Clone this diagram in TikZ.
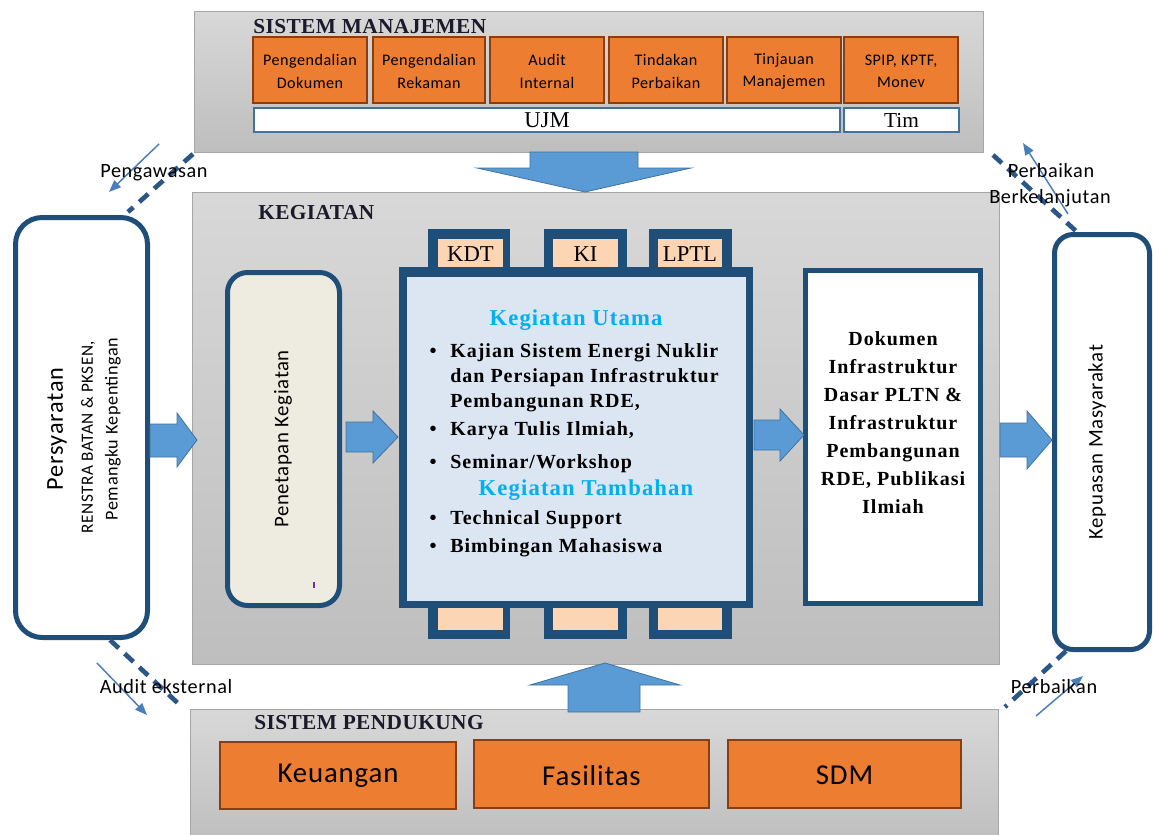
\documentclass[tikz,border=0pt]{standalone}
\usepackage{fontspec}
\setmainfont{Liberation Serif}
\newfontfamily\sfsp{Carlito}[LetterSpace=3]
\newfontfamily\rmsp{Liberation Serif}[LetterSpace=5]
\newfontfamily\ttlsp{Liberation Serif}[LetterSpace=2]
\usetikzlibrary{arrows.meta,fit}
\definecolor{orng}{HTML}{ED7D31}
\definecolor{orngb}{HTML}{8A3E10}
\definecolor{navy}{HTML}{1F4E79}
\definecolor{lblue}{HTML}{DCE6F2}
\definecolor{peach}{HTML}{FCD5B4}
\definecolor{ablue}{HTML}{5B9BD5}
\definecolor{ablueb}{HTML}{41719C}
\definecolor{cream}{HTML}{EEECE1}
\definecolor{cyanh}{HTML}{00B0F0}
\definecolor{grayb}{HTML}{A6A6A6}
\definecolor{gtop}{HTML}{D8D8D8}
\definecolor{gbot}{HTML}{BEBEBE}
\definecolor{dashc}{HTML}{2B5688}
\definecolor{thinc}{HTML}{4A7EBB}
\definecolor{ttlc}{HTML}{1A1A2A}
\begin{document}
\begin{tikzpicture}[x=0.75pt,y=-0.75pt,
  graybox/.style={draw=grayb, line width=0.75pt, top color=gtop, bottom color=gbot, inner sep=0},
  obox/.style={draw=orngb, fill=orng, line width=0.9pt, inner sep=0},
  wbox/.style={draw=ablueb, fill=white, line width=1.2pt, inner sep=0},
  rbox/.style={draw=navy, line width=3.75pt, fill=white, inner sep=0},
  navyfill/.style={fill=navy, inner sep=0},
  pbox/.style={fill=peach, inner sep=0},
  txt/.style={inner sep=0, align=center, anchor=center},
  otxt/.style={txt, font=\sfsp\fontsize{12.1}{17.2}\selectfont},
  btxt/.style={txt, font=\sfsp\fontsize{21.6}{24}\selectfont},
  stxt/.style={txt, font=\fontsize{17}{20}\selectfont},
  barrow/.style={fill=ablue, draw=ablueb, line width=0.6pt},
  dashline/.style={draw=dashc, line width=3.5pt, dash pattern=on 9pt off 6pt},
  thinarr/.style={draw=thinc, line width=1.1pt, -{Triangle[length=9pt,width=7pt]}},
  ttl/.style={font=\ttlsp\bfseries\fontsize{16}{19}\selectfont, text=ttlc, anchor=base west, inner sep=0},
  lbl/.style={font=\sfsp\fontsize{15.2}{18}\selectfont, anchor=base, inner sep=0},
  body/.style={font=\rmsp\bfseries\fontsize{15}{18}\selectfont, anchor=base west, inner sep=0},
  bul/.style={font=\rmsp\bfseries\fontsize{15}{18}\selectfont, anchor=base, inner sep=0},
  headt/.style={font=\rmsp\bfseries\fontsize{17}{20}\selectfont, text=cyanh, anchor=base, inner sep=0},
  rot/.style={rotate=90, inner sep=0, anchor=center}
]
\useasboundingbox (0,0) rectangle (1153,835);

% ---------- gray frames
\node (sm) [graybox, fit={(194,11) (983,152)}] {};
\node (keg) [graybox, fit={(192,192) (999,664)}] {};
\node (sp) [graybox, fit={(190,709) (998,845)}] {};

\node (smt) [ttl] at (253,33) {SISTEM MANAJEMEN};
\node (kegt) [ttl] at (258,219) {KEGIATAN};
\node (spt) [ttl] at (254,729) {SISTEM PENDUKUNG};

% ---------- Sistem Manajemen boxes
\node (pd) [obox, fit={(253,37) (367,103)}] {};
\node (pr) [obox, fit={(373,37) (485,103)}] {};
\node (ai) [obox, fit={(490,37) (604,103)}] {};
\node (tp) [obox, fit={(609,37) (723,103)}] {};
\node (tm) [obox, fit={(727,37) (841,103)}] {};
\node (spip) [obox, fit={(844,37) (958,103)}] {};
\node (pdt) [otxt] at ([yshift=-1pt]pd.center) {Pengendalian\\Dokumen};
\node (prt) [otxt] at ([yshift=-1pt]pr.center) {Pengendalian\\Rekaman};
\node (ait) [otxt] at ([yshift=-1pt]ai.center) {Audit\\Internal};
\node (tpt) [otxt] at ([yshift=-1pt]tp.center) {Tindakan\\Perbaikan};
\node (tmt) [otxt] at ([yshift=-1pt]tm.center) {Tinjauan\\Manajemen};
\node (spipt) [otxt] at ([yshift=-1pt]spip.center) {SPIP, KPTF,\\Monev};

\node (ujm) [wbox, fit={(254,108) (840,132)}] {};
\node (tim) [wbox, fit={(844,108) (959,132)}] {};
\node (ujmt) [stxt] at (ujm.center) {UJM};
\node (timt) [stxt, font=\fontsize{16}{20}\selectfont] at (tim.center) {Tim};

% ---------- Sistem Pendukung boxes
\node (keu) [obox, fit={(220,742) (456,809)}] {};
\node (fas) [obox, fit={(474,740) (709,808)}] {};
\node (sdm) [obox, fit={(728,740) (961,808)}] {};
\node (keut) [btxt] at (keu.center) {Keuangan};
\node (fast) [btxt] at ([yshift=-1pt]fas.center) {Fasilitas};
\node (sdmt) [btxt] at ([yshift=-1pt]sdm.center) {SDM};

% ---------- Persyaratan
\node (pers) [rbox, rounded corners=20pt, fit={(15.5,217.5) (147.5,637.5)}] {};
\node (pers1) [rot, font=\sfsp\fontsize{18.2}{20}\selectfont] at (57,429) {Persyaratan};
\node (pers2) [rot, font=\sfsp\fontsize{12.9}{14}\selectfont] at (88,437) {RENSTRA BATAN \& PKSEN,};
\node (pers3) [rot, font=\sfsp\fontsize{13.6}{15}\selectfont] at (113,429) {Pemangku Kepentingan};

% ---------- Penetapan Kegiatan
\node (pen) [rbox, fill=cream, rounded corners=15pt, fit={(227.5,272.5) (339.5,605.5)}] {};
\node (pent) [rot, font=\sfsp\fontsize{15.6}{17}\selectfont] at (283,439) {Penetapan Kegiatan};
\draw[draw={rgb,255:red,112;green,48;blue,160}, line width=1pt] (314,582) -- (314,588);

% ---------- Main activity box
\node (mainf) [navyfill, fit={(399,267) (753,608)}] {};
\node (tab1) [navyfill, fit={(428,229) (510,267)}] {};
\node (tab2) [navyfill, fit={(544,229) (627,267)}] {};
\node (tab3) [navyfill, fit={(649,229) (732,267)}] {};
\node (tab4) [navyfill, fit={(428,608) (510,639)}] {};
\node (tab5) [navyfill, fit={(544,608) (627,639)}] {};
\node (tab6) [navyfill, fit={(649,608) (732,639)}] {};
\node (maini) [fill=lblue, inner sep=0, fit={(407,277) (746,601)}] {};
\node (kdt) [pbox, fit={(438,239) (503,267)}] {};
\node (ki) [pbox, fit={(553,239) (618,267)}] {};
\node (lptl) [pbox, fit={(658,239) (722,267)}] {};
\node (kdtt) [stxt] at ([yshift=-1pt]kdt.center) {KDT};
\node (kit) [stxt] at ([yshift=-1pt]ki.center) {KI};
\node (lptlt) [stxt] at ([yshift=-1pt]lptl.center) {LPTL};
\node (p4) [pbox, fit={(438,608) (503,630)}] {};
\node (p5) [pbox, fit={(553,608) (618,630)}] {};
\node (p6) [pbox, fit={(658,608) (722,630)}] {};

\node (hu) [headt] at (576,325) {Kegiatan Utama};
\node (b1) [bul] at (433,357) {•};
\node (l1) [body] at (450,357) {Kajian Sistem Energi Nuklir};
\node (l2) [body] at (450,382) {dan Persiapan Infrastruktur};
\node (l3) [body] at (450,407) {Pembangunan RDE,};
\node (b2) [bul] at (433,435) {•};
\node (l4) [body] at (450,435) {Karya Tulis Ilmiah,};
\node (b3) [bul] at (433,468) {•};
\node (l5) [body] at (450,468) {Seminar/Workshop};
\node (ht) [headt] at (586,495) {Kegiatan Tambahan};
\node (b4) [bul] at (433,524) {•};
\node (l6) [body] at (450,524) {Technical Support};
\node (b5) [bul] at (433,552) {•};
\node (l7) [body] at (450,552) {Bimbingan Mahasiswa};

% ---------- Output box
\node (out) [rbox, fit={(805.5,270.5) (980.5,603.5)}] {};
\node (outt) [align=center, inner sep=0, font=\rmsp\bfseries\fontsize{15}{21}\selectfont] at (893,423)
  {Dokumen\\Infrastruktur\\Dasar PLTN \&\\Infrastruktur\\Pembangunan\\RDE, Publikasi\\Ilmiah};

% ---------- Kepuasan
\node (kep) [rbox, rounded corners=14pt, fit={(1054.5,234.5) (1149.5,649.5)}] {};
\node (kept) [rot, font=\sfsp\fontsize{15.6}{17}\selectfont] at (1097,442) {Kepuasan Masyarakat};

% ---------- block arrows
\draw[barrow] (530,152) -- (638,152) -- (638,168) -- (691,168) -- (585,192) -- (477,168) -- (530,168) -- cycle;
\draw[barrow] (568,712) -- (640,712) -- (640,685) -- (680,685) -- (605,663) -- (530,685) -- (568,685) -- cycle;
\draw[barrow] (150,424) -- (177,424) -- (177,413) -- (197,440) -- (177,467) -- (177,457) -- (150,457) -- cycle;
\draw[barrow] (346,422) -- (373,422) -- (373,411) -- (398,437) -- (373,463) -- (373,452) -- (346,452) -- cycle;
\draw[barrow] (754,420) -- (780,420) -- (780,409) -- (804,435) -- (780,461) -- (780,450) -- (754,450) -- cycle;
\draw[barrow] (1000,423) -- (1027,423) -- (1027,411) -- (1052,440) -- (1027,469) -- (1027,457) -- (1000,457) -- cycle;

% ---------- dashed connectors and thin arrows
\coordinate (dtl1) at (193,154); \coordinate (dtl2) at (128,212);
\coordinate (dbl1) at (110,640); \coordinate (dbl2) at (182,707);
\coordinate (dbr1) at (1066,651); \coordinate (dbr2) at (1005,707);
\coordinate (dtr1) at (993,155); \coordinate (dtr2) at (1077,232);
\draw[dashline] (dtl1) -- (dtl2);
\draw[dashline] (dbl1) -- (dbl2);
\draw[dashline] (dbr1) -- (dbr2);
\draw[dashline] (dtr1) -- (dtr2);

\coordinate (atl1) at (159,144); \coordinate (atl2) at (109,192);
\coordinate (abl1) at (97,663);  \coordinate (abl2) at (147,715);
\coordinate (abr1) at (1036,716); \coordinate (abr2) at (1083,676);
\coordinate (atr1) at (1068,214); \coordinate (atr2) at (1023,143);
\draw[thinarr] (atl1) -- (atl2);
\draw[thinarr] (abl1) -- (abl2);
\draw[thinarr] (abr1) -- (abr2);
\draw[thinarr] (atr1) -- (atr2);

\node (tpeng) [lbl] at (154,177) {Pengawasan};
\node (taud) [lbl] at (166,693) {Audit eksternal};
\node (tperb) [lbl] at (1054,693) {Perbaikan};
\node (tperb2) [lbl] at (1051,177) {Perbaikan};
\node (tberk) [lbl] at (1050,203) {Berkelanjutan};
\end{tikzpicture}
\end{document}
